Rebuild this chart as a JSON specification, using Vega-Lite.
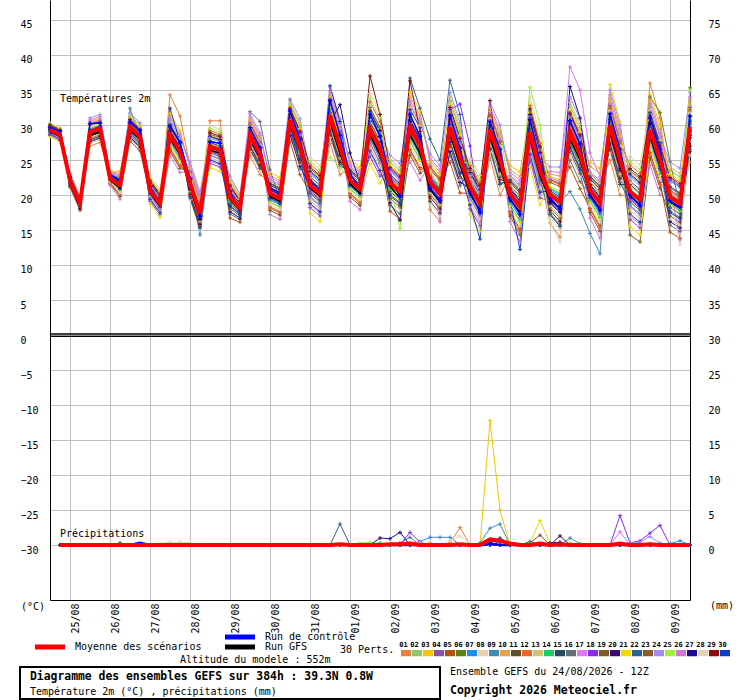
{
  "$schema": "https://vega.github.io/schema/vega-lite/v6.json",
  "description": "Diagramme des ensembles GEFS : température 2m et précipitations",
  "width": 640,
  "height": 600,
  "autosize": {"type": "none"},
  "padding": {"left": 50, "top": 0, "right": 50, "bottom": 100},
  "background": "white",
  "config": {
    "font": "DejaVu Sans Mono",
    "view": {"stroke": null},
    "axis": {
      "labelFont": "DejaVu Sans Mono",
      "labelFontSize": 10,
      "labelColor": "#000000",
      "domainColor": "#000000",
      "domainWidth": 1,
      "gridColor": "#c0c0c0",
      "gridOpacity": 1,
      "gridWidth": 1,
      "ticks": false,
      "tickSize": 0,
      "title": null,
      "labelFlush": false,
      "labelOverlap": false,
      "labelBound": false
    },
    "legend": {
      "labelFont": "DejaVu Sans Mono",
      "titleFont": "DejaVu Sans Mono",
      "labelColor": "#000000",
      "titleColor": "#000000",
      "padding": 0,
      "offset": 0
    },
    "text": {"font": "DejaVu Sans Mono", "fontSize": 10, "color": "#000000"}
  },
  "datasets": {
    "temp": [
      {"h":0,"01":29.2,"02":29.5,"03":29.9,"04":28.5,"05":29.1,"06":29.4,"07":29.8,"08":30.3,"09":28.9,"10":29.3,"11":29.6,"12":30.1,"13":28.8,"14":29.2,"15":29.5,"16":29.9,"17":28.6,"18":29.1,"19":29.4,"20":29.8,"21":28.3,"22":29.0,"23":29.3,"24":29.7,"25":30.2,"26":28.9,"27":29.3,"28":29.6,"29":30.0,"30":28.7,"c":29.6,"g":29.0,"m":29.3},
      {"h":6,"01":28.5,"02":28.8,"03":29.2,"04":27.8,"05":28.4,"06":28.7,"07":29.1,"08":29.6,"09":28.2,"10":28.6,"11":28.9,"12":29.4,"13":28.1,"14":28.5,"15":28.8,"16":29.2,"17":27.9,"18":28.4,"19":28.7,"20":29.1,"21":27.6,"22":28.3,"23":28.6,"24":29.0,"25":29.5,"26":28.2,"27":28.6,"28":28.9,"29":29.3,"30":28.0,"c":29.1,"g":28.4,"m":28.6},
      {"h":12,"01":22.2,"02":22.9,"03":21.9,"04":22.4,"05":21.1,"06":22.0,"07":22.6,"08":21.5,"09":22.1,"10":22.7,"11":21.7,"12":22.3,"13":23.0,"14":21.9,"15":22.4,"16":21.3,"17":22.1,"18":22.6,"19":21.6,"20":22.2,"21":22.8,"22":21.8,"23":22.3,"24":23.1,"25":22.0,"26":22.5,"27":21.4,"28":22.1,"29":22.7,"30":21.7,"c":22.5,"g":22.0,"m":22.1},
      {"h":18,"01":18.9,"02":19.6,"03":18.6,"04":19.1,"05":17.8,"06":18.7,"07":19.3,"08":18.2,"09":18.8,"10":19.4,"11":18.4,"12":19.0,"13":19.7,"14":18.6,"15":19.1,"16":18.0,"17":18.8,"18":19.3,"19":18.3,"20":18.9,"21":19.5,"22":18.5,"23":19.0,"24":19.8,"25":18.7,"26":19.2,"27":18.1,"28":18.8,"29":19.4,"30":18.4,"c":18.9,"g":18.6,"m":18.8},
      {"h":24,"01":27.0,"02":29.0,"03":30.3,"04":28.6,"05":29.9,"06":28.1,"07":29.4,"08":27.4,"09":29.0,"10":30.5,"11":28.7,"12":30.0,"13":28.2,"14":29.5,"15":27.6,"16":29.1,"17":30.7,"18":28.8,"19":30.1,"20":28.4,"21":29.6,"22":27.7,"23":29.2,"24":31.0,"25":28.9,"26":30.2,"27":28.5,"28":29.8,"29":27.9,"30":29.3,"c":30.2,"g":28.6,"m":29.0},
      {"h":30,"01":27.5,"02":29.5,"03":30.8,"04":29.1,"05":30.4,"06":28.6,"07":29.9,"08":27.9,"09":29.5,"10":31.0,"11":29.2,"12":30.5,"13":28.7,"14":30.0,"15":28.1,"16":29.6,"17":31.2,"18":29.3,"19":30.6,"20":28.9,"21":30.1,"22":28.2,"23":29.7,"24":31.5,"25":29.4,"26":30.7,"27":29.0,"28":30.3,"29":28.4,"30":29.8,"c":30.3,"g":29.0,"m":29.5},
      {"h":36,"01":23.0,"02":22.4,"03":23.4,"04":22.5,"05":21.8,"06":22.7,"07":22.1,"08":23.0,"09":22.3,"10":23.3,"11":22.5,"12":21.7,"13":22.7,"14":22.0,"15":22.9,"16":22.3,"17":23.2,"18":22.4,"19":21.6,"20":22.6,"21":22.0,"22":22.9,"23":22.2,"24":23.1,"25":22.4,"26":21.4,"27":22.6,"28":21.9,"29":22.8,"30":22.2,"c":22.9,"g":22.1,"m":22.4},
      {"h":42,"01":22.6,"02":21.3,"03":23.4,"04":21.6,"05":20.1,"06":22.0,"07":20.8,"08":22.5,"09":21.2,"10":23.1,"11":21.5,"12":20.0,"13":21.9,"14":20.6,"15":22.4,"16":21.1,"17":22.9,"18":21.4,"19":19.8,"20":21.8,"21":20.5,"22":22.3,"23":21.0,"24":22.7,"25":21.4,"26":19.4,"27":21.7,"28":20.3,"29":22.2,"30":20.9,"c":22.0,"g":21.0,"m":21.4},
      {"h":48,"01":29.9,"02":31.2,"03":29.2,"04":30.2,"05":27.7,"06":29.5,"07":30.6,"08":28.4,"09":32.4,"10":30.9,"11":28.9,"12":30.0,"13":31.4,"14":29.3,"15":30.3,"16":28.1,"17":29.6,"18":30.7,"19":28.6,"20":29.8,"21":31.0,"22":29.1,"23":30.1,"24":31.7,"25":29.4,"26":30.5,"27":28.3,"28":29.7,"29":30.8,"30":28.8,"c":30.4,"g":29.2,"m":29.7},
      {"h":54,"01":28.5,"02":29.8,"03":27.8,"04":28.8,"05":26.3,"06":28.1,"07":29.2,"08":27.0,"09":28.3,"10":29.5,"11":27.5,"12":28.6,"13":30.0,"14":27.9,"15":28.9,"16":26.7,"17":28.2,"18":29.3,"19":27.2,"20":28.4,"21":29.6,"22":27.7,"23":28.7,"24":30.3,"25":28.0,"26":29.1,"27":26.9,"28":28.3,"29":29.4,"30":27.4,"c":29.2,"g":28.0,"m":28.3},
      {"h":60,"01":20.4,"02":21.0,"03":21.8,"04":19.1,"05":20.2,"06":20.8,"07":21.6,"08":22.7,"09":19.9,"10":20.7,"11":21.3,"12":22.2,"13":19.6,"14":20.5,"15":21.1,"16":21.9,"17":19.3,"18":20.3,"19":20.9,"20":21.7,"21":18.7,"22":20.1,"23":20.7,"24":21.5,"25":22.4,"26":19.8,"27":20.6,"28":21.2,"29":22.0,"30":19.4,"c":21.2,"g":20.3,"m":20.7},
      {"h":66,"01":18.5,"02":19.1,"03":19.9,"04":17.2,"05":18.3,"06":18.9,"07":19.7,"08":20.8,"09":18.0,"10":18.8,"11":19.4,"12":20.3,"13":17.7,"14":18.6,"15":19.2,"16":20.0,"17":17.4,"18":18.4,"19":19.0,"20":19.8,"21":16.8,"22":18.2,"23":18.8,"24":19.6,"25":20.5,"26":17.9,"27":18.7,"28":19.3,"29":20.1,"30":17.5,"c":19.0,"g":18.4,"m":18.8},
      {"h":72,"01":34.3,"02":28.5,"03":31.6,"04":28.9,"05":26.7,"06":29.5,"07":27.7,"08":30.3,"09":28.3,"10":31.2,"11":28.8,"12":26.5,"13":29.4,"14":27.4,"15":30.1,"16":28.2,"17":30.9,"18":28.6,"19":26.2,"20":29.2,"21":27.3,"22":30.0,"23":28.0,"24":30.6,"25":28.6,"26":25.6,"27":29.1,"28":27.0,"29":29.8,"30":32.4,"c":29.8,"g":28.0,"m":28.6},
      {"h":78,"01":31.3,"02":26.1,"03":29.2,"04":26.5,"05":24.3,"06":27.1,"07":25.3,"08":27.9,"09":25.9,"10":28.8,"11":26.4,"12":24.1,"13":27.0,"14":25.0,"15":27.7,"16":25.8,"17":28.5,"18":26.2,"19":23.8,"20":26.8,"21":24.9,"22":27.6,"23":25.6,"24":28.2,"25":26.2,"26":23.2,"27":26.7,"28":24.6,"29":27.4,"30":27.5,"c":27.5,"g":25.8,"m":26.2},
      {"h":84,"01":24.0,"02":21.7,"03":23.7,"04":21.1,"05":23.1,"06":20.4,"07":22.3,"08":19.3,"09":21.7,"10":24.0,"11":21.3,"12":23.2,"13":20.5,"14":22.5,"15":19.6,"16":21.9,"17":24.3,"18":21.4,"19":23.4,"20":20.8,"21":22.6,"22":19.8,"23":22.0,"24":24.7,"25":21.6,"26":23.5,"27":21.0,"28":22.9,"29":20.1,"30":22.2,"c":22.4,"g":21.3,"m":21.7},
      {"h":90,"01":18.5,"02":17.4,"03":19.4,"04":16.8,"05":18.8,"06":16.1,"07":18.0,"08":15.0,"09":14.3,"10":19.7,"11":17.0,"12":18.9,"13":16.2,"14":18.2,"15":15.3,"16":17.6,"17":20.0,"18":17.1,"19":19.1,"20":16.5,"21":18.3,"22":15.5,"23":17.7,"24":20.4,"25":17.3,"26":19.2,"27":16.7,"28":18.6,"29":15.8,"30":17.9,"c":17.0,"g":17.0,"m":17.4},
      {"h":96,"01":30.6,"02":27.4,"03":28.6,"04":24.5,"05":26.2,"06":27.1,"07":28.3,"08":29.9,"09":25.7,"10":26.9,"11":27.8,"12":29.2,"13":25.3,"14":26.6,"15":27.5,"16":28.7,"17":24.8,"18":26.3,"19":27.2,"20":28.4,"21":23.9,"22":26.0,"23":26.9,"24":28.1,"25":29.5,"26":25.6,"27":26.8,"28":27.7,"29":28.9,"30":25.0,"c":27.6,"g":26.4,"m":26.9},
      {"h":102,"01":30.6,"02":26.9,"03":28.1,"04":24.0,"05":25.7,"06":26.6,"07":27.8,"08":29.4,"09":25.2,"10":26.4,"11":27.3,"12":28.7,"13":24.8,"14":26.1,"15":27.0,"16":28.2,"17":24.3,"18":25.8,"19":26.7,"20":27.9,"21":23.4,"22":25.5,"23":26.4,"24":27.6,"25":29.0,"26":25.1,"27":26.3,"28":27.2,"29":28.4,"30":24.5,"c":27.4,"g":26.0,"m":26.4},
      {"h":108,"01":20.0,"02":22.0,"03":19.0,"04":20.5,"05":16.7,"06":19.4,"07":21.1,"08":17.8,"09":19.7,"10":21.5,"11":18.5,"12":20.2,"13":22.3,"14":19.1,"15":20.6,"16":17.3,"17":19.6,"18":21.2,"19":18.1,"20":19.9,"21":21.7,"22":18.8,"23":20.3,"24":22.7,"25":19.3,"26":20.9,"27":17.6,"28":19.7,"29":21.4,"30":18.4,"c":20.5,"g":19.3,"m":19.7},
      {"h":114,"01":18.3,"02":19.6,"03":17.6,"04":18.6,"05":16.1,"06":17.9,"07":19.0,"08":16.8,"09":18.1,"10":19.3,"11":17.3,"12":18.4,"13":19.8,"14":17.7,"15":18.7,"16":16.5,"17":18.0,"18":19.1,"19":17.0,"20":18.2,"21":19.4,"22":17.5,"23":18.5,"24":20.1,"25":17.8,"26":18.9,"27":16.7,"28":18.1,"29":19.2,"30":17.2,"c":17.8,"g":17.8,"m":18.1},
      {"h":120,"01":25.6,"02":28.6,"03":30.6,"04":28.0,"05":30.0,"06":27.3,"07":29.2,"08":26.2,"09":28.6,"10":30.9,"11":28.2,"12":30.1,"13":27.4,"14":29.4,"15":26.5,"16":31.9,"17":31.2,"18":28.3,"19":30.3,"20":27.7,"21":29.5,"22":26.7,"23":28.9,"24":31.6,"25":28.5,"26":30.4,"27":27.9,"28":29.8,"29":27.0,"30":29.1,"c":29.6,"g":28.2,"m":28.6},
      {"h":126,"01":22.9,"02":25.9,"03":27.9,"04":25.3,"05":27.3,"06":24.6,"07":26.5,"08":23.5,"09":25.9,"10":28.2,"11":25.5,"12":27.4,"13":24.7,"14":26.7,"15":23.8,"16":30.5,"17":28.5,"18":25.6,"19":27.6,"20":25.0,"21":26.8,"22":24.0,"23":26.2,"24":28.9,"25":25.8,"26":27.7,"27":25.2,"28":27.1,"29":24.3,"30":26.4,"c":26.8,"g":25.4,"m":25.9},
      {"h":132,"01":22.0,"02":20.1,"03":23.2,"04":20.5,"05":18.3,"06":21.1,"07":19.3,"08":21.9,"09":19.9,"10":22.8,"11":20.4,"12":18.1,"13":21.0,"14":19.0,"15":21.7,"16":23.6,"17":22.5,"18":20.2,"19":17.8,"20":20.8,"21":18.9,"22":21.6,"23":19.6,"24":22.2,"25":20.2,"26":17.2,"27":20.7,"28":18.6,"29":21.4,"30":19.5,"c":21.0,"g":19.8,"m":20.2},
      {"h":138,"01":21.3,"02":19.4,"03":22.5,"04":19.8,"05":17.6,"06":20.4,"07":18.6,"08":21.2,"09":19.2,"10":22.1,"11":19.7,"12":17.4,"13":20.3,"14":18.3,"15":21.0,"16":19.1,"17":21.8,"18":19.5,"19":17.1,"20":20.1,"21":18.2,"22":20.9,"23":18.9,"24":21.5,"25":19.5,"26":16.5,"27":20.0,"28":17.9,"29":20.7,"30":18.8,"c":20.3,"g":19.1,"m":19.5},
      {"h":144,"01":31.0,"02":33.0,"03":30.0,"04":31.5,"05":27.7,"06":30.4,"07":32.1,"08":28.8,"09":30.7,"10":32.5,"11":29.5,"12":31.2,"13":33.3,"14":30.1,"15":31.6,"16":33.6,"17":30.6,"18":32.2,"19":29.1,"20":30.9,"21":32.7,"22":29.8,"23":31.3,"24":33.7,"25":30.3,"26":31.9,"27":28.6,"28":30.7,"29":32.4,"30":29.4,"c":32.0,"g":30.0,"m":30.7},
      {"h":150,"01":27.3,"02":29.9,"03":25.9,"04":27.9,"05":22.9,"06":26.5,"07":28.7,"08":24.3,"09":26.9,"10":29.3,"11":25.3,"12":27.5,"13":30.3,"14":26.1,"15":28.1,"16":23.7,"17":26.7,"18":28.9,"19":24.7,"20":27.1,"21":29.5,"22":25.7,"23":27.7,"24":30.9,"25":26.3,"26":28.5,"27":24.1,"28":26.9,"29":29.1,"30":25.1,"c":28.0,"g":26.3,"m":26.9},
      {"h":156,"01":20.8,"02":22.0,"03":23.6,"04":18.2,"05":20.4,"06":21.6,"07":23.2,"08":25.4,"09":19.8,"10":21.4,"11":22.6,"12":24.4,"13":19.2,"14":21.0,"15":22.2,"16":23.8,"17":18.6,"18":20.6,"19":21.8,"20":23.4,"21":17.4,"22":20.2,"23":21.4,"24":23.0,"25":24.8,"26":19.6,"27":21.2,"28":22.4,"29":24.0,"30":18.8,"c":22.0,"g":21.0,"m":21.4},
      {"h":162,"01":19.6,"02":20.8,"03":22.4,"04":17.0,"05":19.2,"06":20.4,"07":22.0,"08":24.2,"09":18.6,"10":20.2,"11":21.4,"12":23.2,"13":18.0,"14":19.8,"15":21.0,"16":22.6,"17":17.4,"18":19.4,"19":20.6,"20":22.2,"21":16.2,"22":19.0,"23":20.2,"24":21.8,"25":23.6,"26":18.4,"27":20.0,"28":21.2,"29":22.8,"30":17.6,"c":20.8,"g":19.8,"m":20.2},
      {"h":168,"01":27.4,"02":31.4,"03":34.0,"04":30.6,"05":33.2,"06":29.6,"07":32.2,"08":28.2,"09":31.4,"10":34.4,"11":30.8,"12":33.4,"13":29.8,"14":32.4,"15":28.6,"16":31.6,"17":34.8,"18":31.0,"19":33.6,"20":30.2,"21":32.6,"22":28.8,"23":31.8,"24":35.4,"25":25.4,"26":33.8,"27":30.4,"28":33.0,"29":29.2,"30":35.6,"c":33.5,"g":30.6,"m":31.4},
      {"h":174,"01":22.9,"02":26.9,"03":29.5,"04":26.1,"05":28.7,"06":25.1,"07":27.7,"08":23.7,"09":26.9,"10":29.9,"11":26.3,"12":28.9,"13":25.3,"14":27.9,"15":24.1,"16":27.1,"17":30.3,"18":26.5,"19":29.1,"20":25.7,"21":28.1,"22":24.3,"23":27.3,"24":30.9,"25":24.0,"26":29.3,"27":32.9,"28":28.5,"29":24.7,"30":30.5,"c":28.5,"g":26.0,"m":26.9},
      {"h":180,"01":23.9,"02":22.0,"03":25.1,"04":22.4,"05":20.2,"06":23.0,"07":21.2,"08":23.8,"09":21.8,"10":24.7,"11":22.3,"12":20.0,"13":22.9,"14":20.9,"15":23.6,"16":21.7,"17":24.4,"18":22.1,"19":19.7,"20":22.7,"21":20.8,"22":23.5,"23":21.5,"24":24.1,"25":22.1,"26":19.1,"27":26.0,"28":20.5,"29":23.3,"30":21.4,"c":23.0,"g":21.6,"m":22.1},
      {"h":186,"01":22.7,"02":20.8,"03":23.9,"04":21.2,"05":19.0,"06":21.8,"07":20.0,"08":22.6,"09":20.6,"10":23.5,"11":21.1,"12":18.8,"13":21.7,"14":19.7,"15":22.4,"16":20.5,"17":23.2,"18":20.9,"19":18.5,"20":21.5,"21":19.6,"22":22.3,"23":20.3,"24":22.9,"25":20.9,"26":17.9,"27":21.8,"28":19.3,"29":22.1,"30":20.2,"c":21.0,"g":20.2,"m":20.9},
      {"h":192,"01":28.8,"02":30.3,"03":32.3,"04":25.5,"05":28.3,"06":29.8,"07":31.8,"08":34.5,"09":27.5,"10":29.5,"11":31.0,"12":33.3,"13":26.8,"14":29.0,"15":30.5,"16":32.5,"17":26.0,"18":28.5,"19":30.0,"20":32.0,"21":24.5,"22":28.0,"23":29.5,"24":31.5,"25":33.8,"26":27.3,"27":29.3,"28":30.8,"29":37.0,"30":26.3,"c":31.5,"g":28.6,"m":29.5},
      {"h":198,"01":26.0,"02":27.5,"03":29.5,"04":22.7,"05":25.5,"06":27.0,"07":29.0,"08":31.7,"09":24.7,"10":26.7,"11":28.2,"12":30.5,"13":24.0,"14":26.2,"15":27.7,"16":29.7,"17":23.2,"18":25.7,"19":27.2,"20":29.2,"21":21.7,"22":25.2,"23":26.7,"24":28.7,"25":31.0,"26":24.5,"27":26.5,"28":28.0,"29":31.5,"30":23.5,"c":28.4,"g":25.8,"m":26.7},
      {"h":204,"01":22.1,"02":24.7,"03":20.7,"04":22.7,"05":17.7,"06":21.3,"07":23.5,"08":19.1,"09":21.7,"10":24.1,"11":20.1,"12":22.3,"13":25.1,"14":20.9,"15":22.9,"16":18.5,"17":21.5,"18":23.7,"19":19.5,"20":21.9,"21":24.3,"22":20.5,"23":22.5,"24":25.7,"25":21.1,"26":23.3,"27":18.9,"28":21.7,"29":23.9,"30":19.9,"c":22.5,"g":21.2,"m":21.7},
      {"h":210,"01":20.9,"02":23.5,"03":19.5,"04":21.5,"05":16.5,"06":20.1,"07":22.3,"08":17.9,"09":20.5,"10":22.9,"11":18.9,"12":21.1,"13":23.9,"14":19.7,"15":21.7,"16":17.3,"17":20.3,"18":22.5,"19":18.3,"20":20.7,"21":23.1,"22":19.3,"23":21.3,"24":24.5,"25":15.2,"26":22.1,"27":16.4,"28":20.5,"29":22.7,"30":18.7,"c":19.8,"g":19.6,"m":20.5},
      {"h":216,"01":32.7,"02":29.5,"03":34.7,"04":30.2,"05":26.5,"06":31.2,"07":28.2,"08":32.5,"09":29.2,"10":34.0,"11":30.0,"12":26.2,"13":31.0,"14":27.7,"15":32.2,"16":29.0,"17":33.5,"18":29.7,"19":25.7,"20":30.7,"21":27.5,"22":36.7,"23":28.7,"24":33.0,"25":29.7,"26":24.7,"27":30.5,"28":27.0,"29":36.3,"30":28.5,"c":31.5,"g":28.6,"m":29.7},
      {"h":222,"01":30.1,"02":26.9,"03":32.1,"04":27.6,"05":23.9,"06":28.6,"07":25.6,"08":29.9,"09":26.6,"10":31.4,"11":27.4,"12":23.6,"13":28.4,"14":25.1,"15":29.6,"16":26.4,"17":30.9,"18":27.1,"19":23.1,"20":28.1,"21":24.9,"22":32.4,"23":26.1,"24":30.4,"25":27.1,"26":22.1,"27":27.9,"28":24.4,"29":29.1,"30":25.9,"c":28.4,"g":26.0,"m":27.1},
      {"h":228,"01":17.9,"02":21.9,"03":24.5,"04":21.1,"05":23.7,"06":20.1,"07":22.7,"08":18.7,"09":21.9,"10":24.9,"11":21.3,"12":23.9,"13":20.3,"14":22.9,"15":19.1,"16":22.1,"17":25.3,"18":21.5,"19":24.1,"20":20.7,"21":23.1,"22":28.0,"23":22.3,"24":25.9,"25":21.7,"26":24.3,"27":20.9,"28":23.5,"29":19.7,"30":22.5,"c":21.0,"g":20.8,"m":21.9},
      {"h":234,"01":16.2,"02":20.2,"03":22.8,"04":19.4,"05":22.0,"06":18.4,"07":21.0,"08":17.0,"09":20.2,"10":23.2,"11":19.6,"12":22.2,"13":18.6,"14":21.2,"15":17.4,"16":20.4,"17":23.6,"18":19.8,"19":22.4,"20":19.0,"21":21.4,"22":25.0,"23":20.6,"24":24.2,"25":20.0,"26":16.2,"27":19.2,"28":21.8,"29":18.0,"30":20.8,"c":19.2,"g":19.0,"m":20.2},
      {"h":240,"01":30.2,"02":33.5,"03":28.5,"04":31.0,"05":24.7,"06":29.2,"07":32.0,"08":26.5,"09":29.7,"10":32.7,"11":27.7,"12":30.5,"13":34.0,"14":28.7,"15":31.2,"16":25.7,"17":29.5,"18":32.2,"19":27.0,"20":30.0,"21":33.0,"22":36.4,"23":30.7,"24":34.7,"25":29.0,"26":31.7,"27":26.2,"28":29.7,"29":32.5,"30":27.5,"c":31.4,"g":28.6,"m":29.7},
      {"h":246,"01":25.8,"02":29.1,"03":24.1,"04":26.6,"05":20.3,"06":24.8,"07":27.6,"08":22.1,"09":25.3,"10":28.3,"11":23.3,"12":26.1,"13":29.6,"14":24.3,"15":26.8,"16":21.3,"17":25.1,"18":33.0,"19":22.6,"20":25.6,"21":28.6,"22":31.5,"23":26.3,"24":30.3,"25":24.6,"26":27.3,"27":21.8,"28":25.3,"29":28.1,"30":23.1,"c":26.7,"g":24.2,"m":25.3},
      {"h":252,"01":20.6,"02":21.8,"03":23.4,"04":18.0,"05":20.2,"06":21.4,"07":23.0,"08":25.2,"09":19.6,"10":21.2,"11":22.4,"12":24.2,"13":19.0,"14":20.8,"15":22.0,"16":23.6,"17":18.4,"18":27.0,"19":21.6,"20":23.2,"21":17.2,"22":20.0,"23":21.2,"24":22.8,"25":24.6,"26":19.4,"27":21.0,"28":22.2,"29":23.8,"30":18.6,"c":20.5,"g":20.2,"m":21.2},
      {"h":258,"01":18.2,"02":19.4,"03":21.0,"04":15.6,"05":17.8,"06":19.0,"07":20.6,"08":22.8,"09":17.2,"10":18.8,"11":20.0,"12":21.8,"13":16.6,"14":18.4,"15":19.6,"16":21.2,"17":16.0,"18":18.0,"19":19.2,"20":20.8,"21":14.8,"22":17.6,"23":18.8,"24":20.4,"25":22.2,"26":17.0,"27":18.6,"28":19.8,"29":21.4,"30":13.7,"c":17.5,"g":17.8,"m":18.8},
      {"h":264,"01":25.3,"02":29.3,"03":31.9,"04":28.5,"05":31.1,"06":27.5,"07":30.1,"08":26.1,"09":29.3,"10":32.3,"11":28.7,"12":31.3,"13":27.7,"14":30.3,"15":26.5,"16":29.5,"17":32.7,"18":28.9,"19":31.5,"20":28.1,"21":30.5,"22":26.7,"23":29.7,"24":33.3,"25":29.1,"26":31.7,"27":28.3,"28":30.9,"29":33.5,"30":29.9,"c":30.5,"g":28.2,"m":29.3},
      {"h":270,"01":20.0,"02":25.0,"03":28.2,"04":24.0,"05":27.2,"06":22.7,"07":26.0,"08":21.0,"09":25.0,"10":28.7,"11":24.2,"12":27.5,"13":23.0,"14":26.2,"15":21.5,"16":25.2,"17":29.2,"18":24.5,"19":27.7,"20":23.5,"21":26.5,"22":21.7,"23":25.5,"24":30.0,"25":29.3,"26":28.0,"27":23.7,"28":27.0,"29":22.2,"30":25.7,"c":26.5,"g":24.0,"m":25.0},
      {"h":276,"01":22.6,"02":20.0,"03":24.2,"04":20.6,"05":17.6,"06":21.4,"07":19.0,"08":22.4,"09":19.8,"10":23.6,"11":20.4,"12":17.4,"13":21.2,"14":18.6,"15":22.2,"16":19.6,"17":23.2,"18":20.2,"19":17.0,"20":21.0,"21":18.4,"22":22.0,"23":19.4,"24":22.8,"25":20.2,"26":16.2,"27":20.8,"28":18.0,"29":21.8,"30":19.2,"c":19.5,"g":19.3,"m":20.2},
      {"h":282,"01":21.3,"02":18.1,"03":23.3,"04":18.8,"05":15.1,"06":19.8,"07":16.8,"08":21.1,"09":17.8,"10":22.6,"11":18.6,"12":14.8,"13":19.6,"14":16.3,"15":20.8,"16":17.6,"17":22.1,"18":18.3,"19":14.3,"20":19.3,"21":16.1,"22":20.6,"23":17.3,"24":21.6,"25":18.3,"26":13.3,"27":19.1,"28":15.6,"29":20.3,"30":12.2,"c":17.2,"g":17.5,"m":18.3},
      {"h":288,"01":28.3,"02":29.8,"03":31.8,"04":25.0,"05":27.8,"06":29.3,"07":31.3,"08":34.0,"09":27.0,"10":29.0,"11":30.5,"12":32.8,"13":26.3,"14":28.5,"15":30.0,"16":32.0,"17":25.5,"18":28.0,"19":29.5,"20":31.5,"21":24.0,"22":27.5,"23":29.0,"24":31.0,"25":35.4,"26":26.8,"27":28.8,"28":30.3,"29":32.3,"30":25.8,"c":30.8,"g":28.0,"m":29.0},
      {"h":294,"01":22.9,"02":24.4,"03":26.4,"04":19.6,"05":22.4,"06":23.9,"07":25.9,"08":28.6,"09":21.6,"10":23.6,"11":25.1,"12":27.4,"13":20.9,"14":23.1,"15":24.6,"16":26.6,"17":20.1,"18":22.6,"19":24.1,"20":26.1,"21":18.6,"22":22.1,"23":23.6,"24":25.6,"25":30.0,"26":21.4,"27":23.4,"28":24.9,"29":26.9,"30":20.4,"c":24.8,"g":22.8,"m":23.6},
      {"h":300,"01":16.0,"02":20.0,"03":22.6,"04":19.2,"05":21.8,"06":18.2,"07":20.8,"08":16.8,"09":20.0,"10":23.0,"11":19.4,"12":22.0,"13":18.4,"14":21.0,"15":17.2,"16":20.2,"17":23.4,"18":19.6,"19":22.2,"20":18.8,"21":21.2,"22":17.4,"23":20.4,"24":24.0,"25":19.8,"26":22.4,"27":19.0,"28":16.0,"29":17.8,"30":20.6,"c":19.5,"g":19.2,"m":20.0},
      {"h":306,"01":14.0,"02":19.0,"03":22.2,"04":18.0,"05":21.2,"06":16.7,"07":20.0,"08":15.0,"09":19.0,"10":22.7,"11":18.2,"12":21.5,"13":17.0,"14":20.2,"15":15.5,"16":19.2,"17":23.2,"18":18.5,"19":21.7,"20":17.5,"21":20.5,"22":15.7,"23":19.5,"24":24.0,"25":18.7,"26":22.0,"27":17.7,"28":13.3,"29":16.2,"30":19.7,"c":18.0,"g":18.2,"m":19.0},
      {"h":312,"01":29.5,"02":32.7,"03":27.7,"04":30.2,"05":24.0,"06":28.5,"07":31.2,"08":25.7,"09":20.5,"10":32.0,"11":27.0,"12":29.7,"13":33.2,"14":28.0,"15":30.5,"16":25.0,"17":38.3,"18":31.5,"19":26.2,"20":29.2,"21":32.2,"22":27.5,"23":30.0,"24":34.0,"25":28.2,"26":31.0,"27":35.5,"28":29.0,"29":31.7,"30":26.7,"c":30.6,"g":28.0,"m":29.0},
      {"h":318,"01":26.4,"02":29.6,"03":24.6,"04":27.1,"05":20.9,"06":25.4,"07":28.1,"08":22.6,"09":18.0,"10":28.9,"11":23.9,"12":26.6,"13":30.1,"14":24.9,"15":27.4,"16":21.9,"17":35.0,"18":28.4,"19":23.1,"20":26.1,"21":29.1,"22":24.4,"23":26.9,"24":30.9,"25":25.1,"26":27.9,"27":31.0,"28":25.9,"29":28.6,"30":23.6,"c":27.3,"g":25.0,"m":25.9},
      {"h":324,"01":23.1,"02":20.5,"03":24.7,"04":21.1,"05":18.1,"06":21.9,"07":19.5,"08":22.9,"09":14.5,"10":24.1,"11":20.9,"12":17.9,"13":21.7,"14":19.1,"15":22.7,"16":20.1,"17":26.0,"18":20.7,"19":17.5,"20":21.5,"21":18.9,"22":22.5,"23":19.9,"24":23.3,"25":20.7,"26":16.7,"27":21.3,"28":18.5,"29":22.3,"30":19.7,"c":20.0,"g":20.0,"m":20.7},
      {"h":330,"01":21.8,"02":18.6,"03":23.8,"04":19.3,"05":15.6,"06":20.3,"07":17.3,"08":21.6,"09":11.6,"10":23.1,"11":19.1,"12":15.3,"13":20.1,"14":16.8,"15":21.3,"16":18.1,"17":22.6,"18":18.8,"19":14.8,"20":19.8,"21":16.6,"22":21.1,"23":17.8,"24":22.1,"25":18.8,"26":13.8,"27":19.6,"28":16.1,"29":20.8,"30":17.6,"c":17.9,"g":18.0,"m":18.8},
      {"h":336,"01":25.0,"02":30.0,"03":33.3,"04":29.0,"05":32.3,"06":27.8,"07":31.0,"08":26.0,"09":30.0,"10":33.8,"11":29.3,"12":32.5,"13":28.0,"14":31.3,"15":26.5,"16":30.3,"17":34.3,"18":29.5,"19":32.8,"20":28.5,"21":35.8,"22":26.8,"23":30.5,"24":35.0,"25":29.8,"26":33.0,"27":28.8,"28":32.0,"29":27.3,"30":30.8,"c":31.6,"g":29.0,"m":30.0},
      {"h":342,"01":20.0,"02":25.0,"03":28.3,"04":24.0,"05":27.3,"06":22.8,"07":26.0,"08":21.0,"09":25.0,"10":28.8,"11":24.3,"12":27.5,"13":23.0,"14":26.3,"15":21.5,"16":25.3,"17":29.3,"18":24.5,"19":27.8,"20":23.5,"21":30.5,"22":21.8,"23":25.5,"24":30.0,"25":24.8,"26":28.0,"27":23.8,"28":27.0,"29":22.3,"30":25.8,"c":26.5,"g":24.2,"m":25.0},
      {"h":348,"01":19.8,"02":21.3,"03":23.3,"04":16.5,"05":19.3,"06":20.8,"07":22.8,"08":25.5,"09":18.5,"10":20.5,"11":22.0,"12":24.3,"13":17.8,"14":20.0,"15":21.5,"16":23.5,"17":17.0,"18":19.5,"19":14.3,"20":23.0,"21":15.5,"22":19.0,"23":20.5,"24":22.5,"25":24.8,"26":18.3,"27":20.3,"28":21.8,"29":23.8,"30":17.3,"c":20.0,"g":19.8,"m":20.5},
      {"h":354,"01":18.6,"02":20.1,"03":22.1,"04":15.3,"05":18.1,"06":19.6,"07":21.6,"08":24.3,"09":17.3,"10":19.3,"11":20.8,"12":23.1,"13":16.6,"14":18.8,"15":20.3,"16":22.3,"17":15.8,"18":18.3,"19":13.3,"20":21.8,"21":14.3,"22":17.8,"23":19.3,"24":21.3,"25":23.6,"26":17.1,"27":19.1,"28":20.6,"29":22.6,"30":16.1,"c":18.5,"g":18.6,"m":19.3},
      {"h":360,"01":36.0,"02":29.1,"03":34.3,"04":29.8,"05":26.1,"06":34.0,"07":27.8,"08":32.1,"09":28.8,"10":33.6,"11":29.6,"12":25.8,"13":30.6,"14":27.3,"15":31.8,"16":28.6,"17":33.1,"18":29.3,"19":25.3,"20":30.3,"21":27.1,"22":31.6,"23":28.3,"24":32.6,"25":29.3,"26":24.3,"27":30.1,"28":26.6,"29":31.3,"30":28.1,"c":31.0,"g":28.4,"m":29.3},
      {"h":366,"01":31.0,"02":24.8,"03":30.0,"04":25.5,"05":21.8,"06":31.8,"07":23.5,"08":27.8,"09":24.5,"10":29.3,"11":25.3,"12":21.5,"13":26.3,"14":23.0,"15":27.5,"16":24.3,"17":28.8,"18":25.0,"19":21.0,"20":26.0,"21":22.8,"22":27.3,"23":24.0,"24":28.3,"25":25.0,"26":20.0,"27":25.8,"28":22.3,"29":27.0,"30":23.8,"c":26.5,"g":24.2,"m":25.0},
      {"h":372,"01":20.2,"02":23.5,"03":18.5,"04":21.0,"05":14.7,"06":24.8,"07":22.0,"08":16.5,"09":19.7,"10":22.7,"11":17.7,"12":20.5,"13":24.0,"14":18.7,"15":21.2,"16":15.7,"17":19.5,"18":22.2,"19":17.0,"20":20.0,"21":23.0,"22":18.2,"23":20.7,"24":24.7,"25":19.0,"26":21.7,"27":16.2,"28":19.7,"29":22.5,"30":17.5,"c":19.2,"g":19.0,"m":19.7},
      {"h":378,"01":19.3,"02":22.6,"03":17.6,"04":20.1,"05":13.8,"06":18.3,"07":21.1,"08":15.6,"09":18.8,"10":21.8,"11":16.8,"12":19.6,"13":23.1,"14":17.8,"15":20.3,"16":14.8,"17":18.6,"18":21.3,"19":16.1,"20":19.1,"21":22.1,"22":17.3,"23":19.8,"24":23.8,"25":18.1,"26":13.6,"27":15.3,"28":12.9,"29":21.6,"30":16.6,"c":18.3,"g":18.1,"m":18.8},
      {"h":384,"01":24.7,"02":29.7,"03":33.0,"04":28.7,"05":32.0,"06":35.3,"07":30.7,"08":25.7,"09":29.7,"10":33.5,"11":29.0,"12":32.2,"13":27.7,"14":31.0,"15":26.2,"16":30.0,"17":34.0,"18":29.2,"19":32.5,"20":28.2,"21":31.2,"22":26.5,"23":30.2,"24":34.7,"25":35.0,"26":32.7,"27":28.5,"28":31.7,"29":27.0,"30":30.5,"c":31.3,"g":28.8,"m":29.7}
    ],
    "precip": [
      {"h":6,"01":0,"02":0,"03":0,"04":0,"05":0,"06":0,"07":0,"08":0,"09":0,"10":0,"11":0,"12":0,"13":0,"14":0,"15":0,"16":0,"17":0,"18":0,"19":0,"20":0,"21":0,"22":0,"23":0,"24":0,"25":0,"26":0,"27":0,"28":0,"29":0,"30":0,"c":0.1,"g":0,"m":0},
      {"h":12,"01":0,"02":0,"03":0,"04":0,"05":0,"06":0,"07":0,"08":0,"09":0,"10":0,"11":0,"12":0,"13":0,"14":0,"15":0,"16":0,"17":0,"18":0,"19":0,"20":0,"21":0,"22":0,"23":0,"24":0,"25":0,"26":0,"27":0,"28":0,"29":0,"30":0,"c":0,"g":0,"m":0},
      {"h":18,"01":0,"02":0,"03":0,"04":0,"05":0,"06":0,"07":0,"08":0,"09":0,"10":0,"11":0,"12":0,"13":0,"14":0,"15":0,"16":0,"17":0,"18":0,"19":0,"20":0,"21":0,"22":0,"23":0,"24":0,"25":0,"26":0,"27":0,"28":0,"29":0,"30":0,"c":0,"g":0,"m":0},
      {"h":24,"01":0,"02":0,"03":0,"04":0,"05":0,"06":0,"07":0,"08":0,"09":0,"10":0,"11":0,"12":0,"13":0,"14":0,"15":0,"16":0,"17":0,"18":0,"19":0,"20":0,"21":0,"22":0,"23":0,"24":0,"25":0,"26":0,"27":0,"28":0,"29":0,"30":0,"c":0,"g":0,"m":0},
      {"h":30,"01":0,"02":0,"03":0,"04":0,"05":0,"06":0,"07":0,"08":0,"09":0,"10":0,"11":0,"12":0,"13":0,"14":0,"15":0,"16":0,"17":0,"18":0,"19":0,"20":0,"21":0,"22":0,"23":0,"24":0,"25":0,"26":0,"27":0,"28":0,"29":0,"30":0,"c":0,"g":0,"m":0},
      {"h":36,"01":0,"02":0,"03":0,"04":0,"05":0,"06":0,"07":0,"08":0,"09":0,"10":0,"11":0,"12":0,"13":0,"14":0,"15":0,"16":0,"17":0,"18":0,"19":0,"20":0,"21":0,"22":0,"23":0,"24":0,"25":0,"26":0,"27":0,"28":0,"29":0,"30":0,"c":0,"g":0,"m":0},
      {"h":42,"01":0,"02":0,"03":0,"04":0,"05":0,"06":0,"07":0,"08":0,"09":0,"10":0,"11":0,"12":0,"13":0,"14":0,"15":0,"16":0,"17":0,"18":0,"19":0.3,"20":0,"21":0,"22":0,"23":0,"24":0,"25":0,"26":0,"27":0,"28":0,"29":0,"30":0,"c":0,"g":0,"m":0},
      {"h":48,"01":0,"02":0,"03":0,"04":0,"05":0,"06":0,"07":0,"08":0,"09":0,"10":0,"11":0,"12":0,"13":0,"14":0,"15":0,"16":0,"17":0,"18":0,"19":0,"20":0,"21":0,"22":0,"23":0,"24":0,"25":0,"26":0,"27":0,"28":0,"29":0,"30":0,"c":0,"g":0,"m":0},
      {"h":54,"01":0,"02":0,"03":0,"04":0,"05":0,"06":0,"07":0,"08":0,"09":0,"10":0,"11":0,"12":0,"13":0,"14":0,"15":0,"16":0,"17":0,"18":0,"19":0,"20":0,"21":0,"22":0,"23":0,"24":0,"25":0,"26":0,"27":0,"28":0,"29":0,"30":0,"c":0.3,"g":0,"m":0},
      {"h":60,"01":0,"02":0,"03":0,"04":0,"05":0,"06":0,"07":0,"08":0,"09":0,"10":0,"11":0,"12":0,"13":0,"14":0,"15":0,"16":0,"17":0,"18":0,"19":0,"20":0,"21":0,"22":0,"23":0,"24":0,"25":0,"26":0,"27":0,"28":0,"29":0,"30":0,"c":0,"g":0,"m":0},
      {"h":66,"01":0,"02":0,"03":0,"04":0,"05":0,"06":0,"07":0,"08":0.2,"09":0,"10":0,"11":0,"12":0,"13":0,"14":0,"15":0,"16":0,"17":0,"18":0,"19":0,"20":0,"21":0,"22":0,"23":0,"24":0,"25":0,"26":0,"27":0,"28":0,"29":0,"30":0,"c":0,"g":0,"m":0},
      {"h":72,"01":0,"02":0,"03":0,"04":0,"05":0,"06":0,"07":0,"08":0.4,"09":0,"10":0,"11":0,"12":0,"13":0,"14":0,"15":0,"16":0,"17":0,"18":0,"19":0,"20":0,"21":0,"22":0,"23":0,"24":0,"25":0,"26":0,"27":0,"28":0,"29":0,"30":0,"c":0,"g":0,"m":0},
      {"h":78,"01":0,"02":0,"03":0,"04":0,"05":0,"06":0,"07":0,"08":0.4,"09":0,"10":0,"11":0,"12":0,"13":0,"14":0,"15":0,"16":0,"17":0,"18":0,"19":0,"20":0,"21":0,"22":0,"23":0,"24":0,"25":0,"26":0,"27":0,"28":0,"29":0,"30":0,"c":0,"g":0,"m":0},
      {"h":84,"01":0,"02":0,"03":0,"04":0,"05":0,"06":0,"07":0,"08":0.3,"09":0,"10":0,"11":0,"12":0,"13":0,"14":0,"15":0,"16":0,"17":0,"18":0,"19":0,"20":0,"21":0,"22":0,"23":0,"24":0,"25":0,"26":0,"27":0,"28":0,"29":0,"30":0,"c":0,"g":0,"m":0},
      {"h":90,"01":0,"02":0,"03":0,"04":0,"05":0,"06":0,"07":0,"08":0.1,"09":0,"10":0,"11":0,"12":0,"13":0,"14":0,"15":0,"16":0,"17":0,"18":0,"19":0,"20":0,"21":0,"22":0,"23":0,"24":0,"25":0,"26":0,"27":0,"28":0,"29":0,"30":0,"c":0,"g":0,"m":0},
      {"h":96,"01":0,"02":0,"03":0,"04":0,"05":0,"06":0,"07":0,"08":0,"09":0,"10":0,"11":0,"12":0,"13":0,"14":0,"15":0,"16":0,"17":0,"18":0,"19":0,"20":0,"21":0,"22":0,"23":0,"24":0,"25":0,"26":0,"27":0,"28":0,"29":0,"30":0,"c":0,"g":0,"m":0},
      {"h":102,"01":0,"02":0,"03":0,"04":0,"05":0,"06":0,"07":0,"08":0,"09":0,"10":0,"11":0,"12":0,"13":0,"14":0,"15":0,"16":0,"17":0,"18":0,"19":0,"20":0,"21":0,"22":0,"23":0,"24":0,"25":0,"26":0,"27":0,"28":0,"29":0,"30":0,"c":0,"g":0,"m":0},
      {"h":108,"01":0,"02":0,"03":0,"04":0,"05":0,"06":0,"07":0,"08":0,"09":0,"10":0,"11":0,"12":0,"13":0,"14":0,"15":0,"16":0,"17":0,"18":0,"19":0,"20":0,"21":0,"22":0,"23":0,"24":0,"25":0,"26":0,"27":0,"28":0,"29":0,"30":0,"c":0,"g":0,"m":0},
      {"h":114,"01":0,"02":0,"03":0,"04":0,"05":0,"06":0,"07":0,"08":0,"09":0,"10":0,"11":0,"12":0,"13":0,"14":0,"15":0,"16":0,"17":0,"18":0,"19":0,"20":0,"21":0,"22":0,"23":0,"24":0,"25":0,"26":0,"27":0,"28":0,"29":0,"30":0,"c":0,"g":0,"m":0},
      {"h":120,"01":0,"02":0,"03":0,"04":0,"05":0,"06":0,"07":0,"08":0,"09":0,"10":0,"11":0,"12":0,"13":0,"14":0,"15":0,"16":0,"17":0,"18":0,"19":0,"20":0,"21":0,"22":0,"23":0,"24":0,"25":0,"26":0,"27":0,"28":0,"29":0,"30":0,"c":0,"g":0,"m":0},
      {"h":126,"01":0,"02":0,"03":0,"04":0,"05":0,"06":0,"07":0,"08":0,"09":0,"10":0,"11":0,"12":0,"13":0,"14":0,"15":0,"16":0,"17":0,"18":0,"19":0,"20":0,"21":0,"22":0,"23":0,"24":0,"25":0,"26":0,"27":0,"28":0,"29":0,"30":0,"c":0,"g":0,"m":0},
      {"h":132,"01":0,"02":0,"03":0,"04":0,"05":0,"06":0,"07":0,"08":0,"09":0,"10":0,"11":0,"12":0,"13":0,"14":0,"15":0,"16":0,"17":0,"18":0,"19":0,"20":0,"21":0,"22":0,"23":0,"24":0,"25":0,"26":0,"27":0,"28":0,"29":0,"30":0,"c":0,"g":0,"m":0},
      {"h":138,"01":0,"02":0,"03":0,"04":0,"05":0,"06":0,"07":0,"08":0,"09":0,"10":0,"11":0,"12":0,"13":0,"14":0,"15":0,"16":0,"17":0,"18":0,"19":0,"20":0,"21":0,"22":0,"23":0,"24":0,"25":0,"26":0,"27":0,"28":0,"29":0,"30":0,"c":0,"g":0,"m":0},
      {"h":144,"01":0,"02":0,"03":0,"04":0,"05":0,"06":0,"07":0,"08":0,"09":0,"10":0,"11":0,"12":0,"13":0,"14":0,"15":0,"16":0,"17":0,"18":0,"19":0,"20":0,"21":0,"22":0,"23":0,"24":0,"25":0,"26":0,"27":0,"28":0,"29":0,"30":0,"c":0,"g":0,"m":0},
      {"h":150,"01":0,"02":0,"03":0,"04":0,"05":0,"06":0,"07":0,"08":0,"09":0,"10":0,"11":0,"12":0,"13":0,"14":0,"15":0,"16":0,"17":0,"18":0,"19":0,"20":0,"21":0,"22":0,"23":0,"24":0,"25":0,"26":0,"27":0,"28":0,"29":0,"30":0,"c":0,"g":0,"m":0},
      {"h":156,"01":0,"02":0,"03":0,"04":0,"05":0,"06":0,"07":0,"08":0,"09":0,"10":0,"11":0,"12":0,"13":0,"14":0,"15":0,"16":0,"17":0,"18":0,"19":0,"20":0,"21":0,"22":0,"23":0,"24":0,"25":0,"26":0,"27":0,"28":0,"29":0,"30":0,"c":0,"g":0,"m":0},
      {"h":162,"01":0,"02":0,"03":0,"04":0,"05":0,"06":0,"07":0,"08":0,"09":0,"10":0,"11":0,"12":0,"13":0,"14":0,"15":0,"16":0,"17":0,"18":0,"19":0,"20":0,"21":0,"22":0,"23":0,"24":0,"25":0,"26":0,"27":0,"28":0,"29":0,"30":0,"c":0,"g":0,"m":0},
      {"h":168,"01":0,"02":0,"03":0,"04":0,"05":0,"06":0,"07":0,"08":0,"09":0,"10":0,"11":0,"12":0,"13":0,"14":0,"15":0,"16":0,"17":0,"18":0,"19":0,"20":0,"21":0,"22":0,"23":0,"24":0,"25":0,"26":0,"27":0,"28":0,"29":0,"30":0,"c":0,"g":0,"m":0},
      {"h":174,"01":0,"02":0,"03":0,"04":0,"05":0,"06":0,"07":0,"08":0,"09":0,"10":0,"11":0,"12":0,"13":0,"14":0,"15":0,"16":0,"17":0,"18":0,"19":0,"20":0,"21":0,"22":3.0,"23":0,"24":0,"25":0,"26":0,"27":0,"28":0,"29":0,"30":0,"c":0.1,"g":0,"m":0.1},
      {"h":180,"01":0,"02":0,"03":0,"04":0,"05":0,"06":0,"07":0,"08":0,"09":0,"10":0,"11":0,"12":0,"13":0,"14":0,"15":0,"16":0,"17":0,"18":0,"19":0,"20":0,"21":0,"22":0,"23":0,"24":0,"25":0,"26":0,"27":0,"28":0,"29":0,"30":0,"c":0,"g":0,"m":0},
      {"h":186,"01":0,"02":0,"03":0,"04":0,"05":0,"06":0,"07":0,"08":0,"09":0,"10":0,"11":0,"12":0,"13":0,"14":0,"15":0,"16":0,"17":0,"18":0,"19":0,"20":0,"21":0,"22":0,"23":0,"24":0,"25":0.3,"26":0,"27":0,"28":0,"29":0,"30":0,"c":0,"g":0,"m":0},
      {"h":192,"01":0,"02":0,"03":0,"04":0,"05":0,"06":0,"07":0,"08":0,"09":0,"10":0,"11":0,"12":0,"13":0,"14":0.2,"15":0,"16":0,"17":0,"18":0,"19":0,"20":0,"21":0,"22":0,"23":0,"24":0,"25":0.4,"26":0,"27":0,"28":0,"29":0,"30":0,"c":0,"g":0,"m":0},
      {"h":198,"01":0,"02":0,"03":0,"04":0,"05":0,"06":0,"07":0,"08":0,"09":0,"10":0,"11":0,"12":0,"13":0,"14":0.3,"15":0,"16":0,"17":0,"18":0,"19":0,"20":0,"21":0,"22":0,"23":0,"24":0,"25":0,"26":0,"27":1.0,"28":0,"29":0,"30":0,"c":0,"g":0,"m":0},
      {"h":204,"01":0,"02":0,"03":0,"04":0,"05":0,"06":0,"07":0,"08":0,"09":0,"10":0,"11":0,"12":0,"13":0,"14":0,"15":0,"16":0,"17":0,"18":0,"19":0,"20":0,"21":0,"22":0,"23":0,"24":0,"25":0,"26":0,"27":0.9,"28":0,"29":0,"30":0,"c":0,"g":0,"m":0.1},
      {"h":210,"01":0,"02":0,"03":0,"04":0,"05":0,"06":0,"07":0,"08":0,"09":0,"10":0,"11":0,"12":0,"13":0,"14":0,"15":0,"16":0.3,"17":0,"18":0,"19":0,"20":0,"21":0,"22":0,"23":0,"24":0,"25":0,"26":0,"27":1.8,"28":0,"29":0,"30":0,"c":0,"g":0.2,"m":0.1},
      {"h":216,"01":0,"02":0,"03":0,"04":0,"05":0,"06":0,"07":0,"08":0,"09":0,"10":0,"11":0,"12":0,"13":0,"14":0,"15":0,"16":1.1,"17":0,"18":1.8,"19":0,"20":0,"21":0,"22":0,"23":0,"24":0,"25":0,"26":0,"27":0,"28":0.4,"29":0,"30":0,"c":0,"g":0,"m":0.2},
      {"h":222,"01":0,"02":0,"03":0,"04":0,"05":0,"06":0,"07":0.5,"08":0,"09":0,"10":0,"11":0,"12":0,"13":0,"14":0,"15":0,"16":0,"17":0,"18":0.4,"19":0,"20":0,"21":0,"22":0,"23":0,"24":0,"25":0,"26":0,"27":0,"28":0.3,"29":0,"30":0,"c":0,"g":0,"m":0},
      {"h":228,"01":0,"02":0,"03":0,"04":0,"05":0,"06":0,"07":1.1,"08":0,"09":0,"10":0.3,"11":0,"12":0,"13":0,"14":0,"15":0,"16":0,"17":0,"18":0,"19":0,"20":0,"21":0,"22":0,"23":0,"24":0,"25":0,"26":0,"27":0,"28":0,"29":0,"30":0,"c":0,"g":0,"m":0},
      {"h":234,"01":0,"02":0,"03":0,"04":0,"05":0,"06":0,"07":1.1,"08":0,"09":0,"10":0,"11":0,"12":0,"13":0,"14":0,"15":0,"16":0,"17":0,"18":0,"19":0,"20":0,"21":0,"22":0,"23":0,"24":0,"25":0,"26":0,"27":0,"28":0,"29":0,"30":0,"c":0,"g":0,"m":0},
      {"h":240,"01":0.3,"02":0,"03":0,"04":0,"05":0,"06":0,"07":1.1,"08":0,"09":0,"10":0,"11":0,"12":0,"13":0,"14":0,"15":0,"16":0,"17":0,"18":0,"19":0,"20":0,"21":0,"22":0,"23":0,"24":0,"25":0,"26":0,"27":0,"28":0.6,"29":0,"30":0,"c":0,"g":0,"m":0},
      {"h":246,"01":2.5,"02":0,"03":0,"04":0,"05":0,"06":0,"07":0,"08":0,"09":0,"10":0,"11":0,"12":0,"13":0,"14":0,"15":0,"16":0,"17":0,"18":0,"19":0,"20":0,"21":0,"22":0,"23":0,"24":0,"25":0,"26":0,"27":0,"28":1.3,"29":0,"30":0,"c":0,"g":0,"m":0.1},
      {"h":252,"01":0,"02":0,"03":0,"04":0,"05":0,"06":0,"07":0,"08":0,"09":0,"10":0,"11":0,"12":0,"13":0,"14":0,"15":0,"16":0,"17":0,"18":0,"19":0,"20":0,"21":0,"22":0,"23":0,"24":0,"25":0,"26":0,"27":0,"28":0.2,"29":0,"30":0,"c":0,"g":0,"m":0},
      {"h":258,"01":0,"02":0,"03":0,"04":0,"05":0,"06":0,"07":0,"08":0,"09":0.3,"10":0,"11":0,"12":0,"13":0,"14":0,"15":0,"16":0,"17":0,"18":0,"19":0,"20":0,"21":0,"22":0,"23":0,"24":0,"25":0,"26":0,"27":0,"28":0,"29":0,"30":0,"c":0,"g":0,"m":0},
      {"h":264,"01":0,"02":0,"03":17.8,"04":0,"05":0,"06":0,"07":0,"08":0,"09":2.4,"10":0,"11":0,"12":0,"13":0,"14":0,"15":0.3,"16":0,"17":0,"18":0,"19":0,"20":0,"21":0,"22":0,"23":0,"24":0,"25":0,"26":0,"27":0,"28":0,"29":0,"30":0,"c":0.2,"g":0.3,"m":0.8},
      {"h":270,"01":0,"02":0,"03":5.0,"04":0,"05":0,"06":0,"07":0,"08":0,"09":3.0,"10":0,"11":0,"12":0,"13":0,"14":0,"15":1.0,"16":0,"17":0,"18":0,"19":0,"20":0,"21":0,"22":0.5,"23":0,"24":0,"25":0,"26":0,"27":0,"28":0,"29":0,"30":0,"c":0,"g":0,"m":0.6},
      {"h":276,"01":0,"02":0,"03":0,"04":0,"05":0,"06":0,"07":0,"08":0,"09":0,"10":0,"11":0,"12":0,"13":0,"14":0,"15":0.2,"16":0,"17":0,"18":0,"19":0,"20":0,"21":0,"22":0,"23":0,"24":0,"25":0,"26":0,"27":0,"28":0,"29":0,"30":0,"c":0,"g":0,"m":0.2},
      {"h":282,"01":0,"02":0,"03":0,"04":0,"05":0,"06":0,"07":0,"08":0,"09":0,"10":0,"11":0,"12":0,"13":0,"14":0,"15":0,"16":0,"17":0,"18":0,"19":0,"20":0,"21":0,"22":0,"23":0,"24":0,"25":0,"26":0,"27":0,"28":0,"29":0,"30":0,"c":0,"g":0,"m":0},
      {"h":288,"01":0,"02":0,"03":0,"04":0,"05":0,"06":0,"07":0,"08":0,"09":0,"10":0,"11":0,"12":0,"13":0,"14":0,"15":0,"16":0,"17":0,"18":0,"19":0.3,"20":0,"21":0.4,"22":0.5,"23":0,"24":0,"25":0,"26":0,"27":0,"28":0,"29":0,"30":0,"c":0,"g":0,"m":0},
      {"h":294,"01":0,"02":0,"03":0,"04":0,"05":0,"06":0,"07":0,"08":0,"09":0,"10":0,"11":0,"12":0,"13":0,"14":0,"15":0,"16":0,"17":0,"18":0,"19":1.4,"20":0,"21":3.5,"22":0,"23":0,"24":0,"25":0,"26":0,"27":0,"28":0,"29":0,"30":0,"c":0,"g":0,"m":0.2},
      {"h":300,"01":0,"02":0,"03":0,"04":0,"05":0,"06":0,"07":0,"08":0,"09":0,"10":0,"11":0,"12":0,"13":0,"14":0,"15":0,"16":0,"17":0,"18":0,"19":0,"20":0,"21":0.2,"22":0,"23":0,"24":0,"25":0,"26":0,"27":0.3,"28":0,"29":0,"30":0,"c":0,"g":0,"m":0},
      {"h":306,"01":0,"02":0,"03":0,"04":0,"05":0,"06":0,"07":0,"08":0,"09":0,"10":0,"11":0,"12":0,"13":0,"14":0,"15":0,"16":0,"17":0,"18":0,"19":0,"20":1.3,"21":0,"22":0,"23":0,"24":0,"25":0,"26":0,"27":0.4,"28":0,"29":0,"30":0,"c":0,"g":0,"m":0.1},
      {"h":312,"01":0,"02":0,"03":0.3,"04":0,"05":0,"06":0,"07":0,"08":0,"09":1.0,"10":0,"11":0,"12":0,"13":0,"14":0,"15":0,"16":0,"17":0,"18":0,"19":0,"20":0,"21":0,"22":0,"23":0,"24":0,"25":0,"26":0,"27":0,"28":0,"29":0,"30":0,"c":0,"g":0,"m":0},
      {"h":318,"01":0,"02":0,"03":0,"04":0,"05":0,"06":0,"07":0,"08":0,"09":0.2,"10":0,"11":0,"12":0,"13":0,"14":0,"15":0,"16":0,"17":0,"18":0,"19":0,"20":0,"21":0,"22":0,"23":0,"24":0,"25":0,"26":0,"27":0,"28":0,"29":0,"30":0,"c":0,"g":0,"m":0},
      {"h":324,"01":0,"02":0,"03":0,"04":0,"05":0,"06":0,"07":0,"08":0,"09":0,"10":0,"11":0,"12":0,"13":0,"14":0,"15":0,"16":0,"17":0,"18":0,"19":0,"20":0,"21":0,"22":0,"23":0,"24":0,"25":0,"26":0,"27":0,"28":0,"29":0,"30":0,"c":0,"g":0,"m":0},
      {"h":330,"01":0,"02":0,"03":0,"04":0,"05":0,"06":0,"07":0,"08":0,"09":0,"10":0,"11":0,"12":0,"13":0,"14":0,"15":0,"16":0,"17":0,"18":0,"19":0,"20":0,"21":0,"22":0,"23":0,"24":0,"25":0,"26":0,"27":0,"28":0,"29":0,"30":0,"c":0,"g":0,"m":0},
      {"h":336,"01":0,"02":0,"03":0,"04":0,"05":0,"06":0,"07":0,"08":0,"09":0,"10":0,"11":0,"12":0,"13":0,"14":0,"15":0,"16":0,"17":0,"18":0,"19":0,"20":0,"21":0,"22":0,"23":0,"24":0,"25":0,"26":0,"27":0,"28":0,"29":0,"30":0,"c":0,"g":0,"m":0},
      {"h":342,"01":0,"02":0,"03":0,"04":0,"05":0,"06":0,"07":0,"08":0,"09":0,"10":0,"11":0,"12":0,"13":0,"14":0,"15":0,"16":0,"17":1.9,"18":4.2,"19":0,"20":0,"21":0,"22":0,"23":0,"24":0,"25":0,"26":0,"27":0,"28":0,"29":0,"30":0,"c":0,"g":0,"m":0.2},
      {"h":348,"01":0,"02":0,"03":0,"04":0,"05":0,"06":0,"07":0,"08":0,"09":0,"10":0,"11":0,"12":0,"13":0,"14":0,"15":0,"16":0,"17":0,"18":0.3,"19":0,"20":0,"21":0,"22":0,"23":0,"24":0.3,"25":0,"26":0.2,"27":0,"28":0,"29":0,"30":0,"c":0,"g":0,"m":0},
      {"h":354,"01":0,"02":0,"03":0,"04":0,"05":0,"06":0,"07":0,"08":0,"09":0,"10":0,"11":0,"12":0,"13":0,"14":0,"15":0,"16":0,"17":0,"18":0.6,"19":0,"20":0,"21":0,"22":0,"23":0,"24":0.4,"25":0,"26":0,"27":0,"28":0,"29":0,"30":0,"c":0,"g":0,"m":0},
      {"h":360,"01":0,"02":0,"03":0,"04":0,"05":0,"06":0,"07":0,"08":0,"09":0,"10":0,"11":0,"12":0,"13":0,"14":0,"15":0,"16":0,"17":0,"18":1.7,"19":0,"20":0,"21":0,"22":0,"23":0,"24":1.2,"25":0,"26":0.2,"27":0,"28":0,"29":0,"30":0,"c":0,"g":0,"m":0.1},
      {"h":366,"01":0,"02":0,"03":0,"04":0,"05":0,"06":0,"07":0,"08":0,"09":0,"10":0,"11":0,"12":0,"13":0,"14":0,"15":0,"16":0,"17":0,"18":2.8,"19":0,"20":0,"21":0,"22":0,"23":0,"24":0.3,"25":0,"26":0,"27":0,"28":0,"29":0,"30":0,"c":0,"g":0,"m":0},
      {"h":372,"01":0,"02":0,"03":0,"04":0,"05":0,"06":0,"07":0.2,"08":0,"09":0,"10":0,"11":0,"12":0,"13":0,"14":0,"15":0,"16":0,"17":0,"18":0,"19":0,"20":0,"21":0,"22":0,"23":0,"24":0,"25":0,"26":0,"27":0,"28":0,"29":0,"30":0,"c":0,"g":0,"m":0},
      {"h":378,"01":0,"02":0,"03":0,"04":0,"05":0,"06":0,"07":0.6,"08":0,"09":0,"10":0,"11":0,"12":0,"13":0,"14":0,"15":0,"16":0,"17":0,"18":0,"19":0,"20":0,"21":0,"22":0,"23":0,"24":0,"25":0,"26":0,"27":0,"28":0,"29":0,"30":0,"c":0,"g":0,"m":0},
      {"h":384,"01":0,"02":0,"03":0,"04":0,"05":0,"06":0,"07":0,"08":0,"09":0,"10":0,"11":0,"12":0,"13":0,"14":0,"15":0,"16":0,"17":0,"18":0,"19":0,"20":0,"21":0,"22":0,"23":0,"24":0,"25":0,"26":0,"27":0,"28":0,"29":0,"30":0,"c":0,"g":0,"m":0}
    ]
  },
  "resolve": {"scale": {"y": "independent"}, "axis": {"y": "independent"}},
  "layer": [
    {
      "layer": [
        {
          "data": {"name": "temp"},
          "transform": [{"fold": ["01","02","03","04","05","06","07","08","09","10","11","12","13","14","15","16","17","18","19","20","21","22","23","24","25","26","27","28","29","30"], "as": ["k", "t"]}],
          "mark": {"type": "line", "strokeWidth": 1, "point": {"shape": "M-1,0H1M0,-1V1", "size": 16, "filled": false, "strokeWidth": 1}},
          "encoding": {
            "x": {
              "field": "h", "type": "quantitative",
              "scale": {"domain": [0, 384], "nice": false, "zero": false},
              "axis": {
                "values": [12,36,60,84,108,132,156,180,204,228,252,276,300,324,348,372],
                "grid": true,
                "labelOverlap": false,
                "labelAngle": 270,
                "labelAlign": "right",
                "labelBaseline": "top",
                "labelPadding": 3,
                "labelExpr": "datum.value < 180 ? format(24 + (datum.value + 12) / 24, '02d') + '/08' : format((datum.value + 12) / 24 - 7, '02d') + '/09'"
              }
            },
            "y": {
              "field": "t", "type": "quantitative",
              "scale": {"domain": [-37.857, 47.857], "nice": false, "zero": false},
              "axis": {"orient": "left", "values": [-30,-25,-20,-15,-10,-5,0,5,10,15,20,25,30,35,40,45], "tickCount": 18, "grid": true, "labelOverlap": false, "labelAlign": "left", "labelBaseline": "top", "labelPadding": 30}
            },
            "color": {
              "field": "k", "type": "nominal",
              "scale": {
                "domain": ["01","02","03","04","05","06","07","08","09","10","11","12","13","14","15","16","17","18","19","20","21","22","23","24","25","26","27","28","29","30"],
                "range": ["#e6823c","#8cc864","#f0c800","#8c50aa","#b4500f","#5a8214","#1e8cf0","#e6d2aa","#3c8cb4","#e6a050","#645028","#f06428","#d2c378","#14d264","#284b64","#646e78","#dc78f0","#8c28f0","#7d5a28","#3c0a6e","#f0dc00","#2a6496","#8c5a28","#a08cf0","#a0f03c","#d278d2","#1e0a96","#e6d2b4","#8c0a0a","#0a3cc8"]
              },
              "legend": {
                "orient": "none",
                "legendX": 290,
                "legendY": 642,
                "direction": "horizontal",
                "columns": 30,
                "title": "30 Perts.",
                "titleOrient": "left",
                "titleFontSize": 10,
                "titleFontWeight": "normal",
                "titlePadding": 7.5,
                "symbolType": "M-1,0.5H1M-1,0.7H1M-1,0.9H1M-1,1.1H1M-1,1.3H1M-1,1.5H1",
                "symbolSize": 100,
                "symbolStrokeWidth": 1.2,
                "symbolOffset": -2.5,
                "labelFontSize": 7,
                "labelFontWeight": "bold",
                "labelAlign": "center",
                "labelBaseline": "bottom",
                "labelOffset": -8.5,
                "columnPadding": -4,
                "rowPadding": 0
              }
            }
          }
        },
        {
          "data": {"name": "temp"},
          "transform": [{"fold": ["g"], "as": ["k", "t"]}],
          "mark": {"type": "line", "strokeWidth": 1.5},
          "encoding": {
            "x": {"field": "h", "type": "quantitative"},
            "y": {"field": "t", "type": "quantitative", "axis": {"orient": "left", "values": [-30,-25,-20,-15,-10,-5,0,5,10,15,20,25,30,35,40,45], "tickCount": 18, "grid": true, "labelOverlap": false, "labelAlign": "left", "labelBaseline": "top", "labelPadding": 30}},
            "stroke": {
              "field": "k", "type": "nominal",
              "scale": {"domain": [" ", "c", "m", "g"], "range": ["rgba(0,0,0,0)", "#0000ff", "#ff0000", "#000000"]},
              "legend": {
                "orient": "none",
                "legendX": -15,
                "legendY": 632,
                "direction": "horizontal",
                "columns": 2,
                "title": null,
                "symbolType": "M-5,-0.667H5M-5,-0.333H5M-5,0H5M-5,0.333H5M-5,0.667H5",
                "symbolSize": 36,
                "symbolStrokeWidth": 1.2,
                "symbolOffset": 10,
                "labelFontSize": 10,
                "labelOffset": 20,
                "labelLimit": 300,
                "columnPadding": 20,
                "rowPadding": -2,
                "labelExpr": "datum.label == 'c' ? 'Run de contrôle' : datum.label == 'g' ? 'Run GFS' : datum.label == 'm' ? 'Moyenne des scénarios' : ''"
              }
            }
          }
        },
        {
          "data": {"name": "temp"},
          "transform": [{"fold": ["c"], "as": ["k", "t"]}],
          "mark": {"type": "line", "strokeWidth": 1.5, "point": {"shape": "M-1,0H1M0,-1V1", "size": 20, "filled": false, "strokeWidth": 1.5}},
          "encoding": {
            "x": {"field": "h", "type": "quantitative"},
            "y": {"field": "t", "type": "quantitative", "axis": {"orient": "left", "values": [-30,-25,-20,-15,-10,-5,0,5,10,15,20,25,30,35,40,45], "tickCount": 18, "grid": true, "labelOverlap": false, "labelAlign": "left", "labelBaseline": "top", "labelPadding": 30}},
            "stroke": {"field": "k", "type": "nominal"}
          }
        },
        {
          "data": {"name": "temp"},
          "transform": [{"fold": ["m"], "as": ["k", "t"]}],
          "mark": {"type": "line", "strokeWidth": 4},
          "encoding": {
            "x": {"field": "h", "type": "quantitative"},
            "y": {"field": "t", "type": "quantitative", "axis": {"orient": "left", "values": [-30,-25,-20,-15,-10,-5,0,5,10,15,20,25,30,35,40,45], "tickCount": 18, "grid": true, "labelOverlap": false, "labelAlign": "left", "labelBaseline": "top", "labelPadding": 30}},
            "stroke": {"field": "k", "type": "nominal"}
          }
        }
      ]
    },
    {
      "layer": [
        {
          "data": {"name": "precip"},
          "transform": [{"fold": ["01","02","03","04","05","06","07","08","09","10","11","12","13","14","15","16","17","18","19","20","21","22","23","24","25","26","27","28","29","30"], "as": ["k", "p"]}],
          "mark": {"type": "line", "strokeWidth": 1, "point": {"shape": "M-1,0H1M0,-1V1", "size": 16, "filled": false, "strokeWidth": 1}},
          "encoding": {
            "x": {"field": "h", "type": "quantitative", "scale": {"domain": [0, 384], "nice": false, "zero": false}},
            "y": {
              "field": "p", "type": "quantitative",
              "scale": {"domain": [-7.857, 77.857], "nice": false, "zero": false},
              "axis": {"orient": "right", "values": [0,5,10,15,20,25,30,35,40,45,50,55,60,65,70,75], "tickCount": 18, "grid": false, "labelOverlap": false, "labelAlign": "left", "labelBaseline": "top", "labelPadding": 18}
            },
            "color": {"field": "k", "type": "nominal"}
          }
        },
        {
          "data": {"name": "precip"},
          "transform": [{"fold": ["g"], "as": ["k", "p"]}],
          "mark": {"type": "line", "strokeWidth": 1.5},
          "encoding": {
            "x": {"field": "h", "type": "quantitative"},
            "y": {"field": "p", "type": "quantitative", "axis": {"orient": "right", "values": [0,5,10,15,20,25,30,35,40,45,50,55,60,65,70,75], "tickCount": 18, "grid": false, "labelOverlap": false, "labelAlign": "left", "labelBaseline": "top", "labelPadding": 18}},
            "stroke": {"field": "k", "type": "nominal"}
          }
        },
        {
          "data": {"name": "precip"},
          "transform": [{"fold": ["c"], "as": ["k", "p"]}],
          "mark": {"type": "line", "strokeWidth": 2.5},
          "encoding": {
            "x": {"field": "h", "type": "quantitative"},
            "y": {"field": "p", "type": "quantitative", "axis": {"orient": "right", "values": [0,5,10,15,20,25,30,35,40,45,50,55,60,65,70,75], "tickCount": 18, "grid": false, "labelOverlap": false, "labelAlign": "left", "labelBaseline": "top", "labelPadding": 18}},
            "stroke": {"field": "k", "type": "nominal"}
          }
        },
        {
          "data": {"name": "precip"},
          "transform": [{"fold": ["m"], "as": ["k", "p"]}],
          "mark": {"type": "line", "strokeWidth": 4},
          "encoding": {
            "x": {"field": "h", "type": "quantitative"},
            "y": {"field": "p", "type": "quantitative", "axis": {"orient": "right", "values": [0,5,10,15,20,25,30,35,40,45,50,55,60,65,70,75], "tickCount": 18, "grid": false, "labelOverlap": false, "labelAlign": "left", "labelBaseline": "top", "labelPadding": 18}},
            "stroke": {"field": "k", "type": "nominal"}
          }
        }
      ]
    },
    {
      "layer": [
        {
          "data": {"values": [{}]},
          "mark": {"type": "rule", "color": "#000000", "strokeWidth": 1.3},
          "encoding": {"y": {"datum": 0.14, "scale": {"domain": [-37.857, 47.857], "nice": false, "zero": false}, "axis": null}}
        },
        {
          "data": {"values": [{}]},
          "mark": {"type": "rule", "color": "#000000", "strokeWidth": 1.3},
          "encoding": {"y": {"datum": -0.2, "scale": {"domain": [-37.857, 47.857], "nice": false, "zero": false}, "axis": null}}
        },
        {
          "data": {"values": [{"txt": "Températures 2m"}]},
          "mark": {"type": "text", "align": "left", "baseline": "middle", "fontSize": 10},
          "encoding": {"x": {"datum": 6}, "y": {"datum": 33.67, "scale": {"domain": [-37.857, 47.857], "nice": false, "zero": false}, "axis": null}, "text": {"field": "txt"}}
        },
        {
          "data": {"values": [{"txt": "Précipitations"}]},
          "mark": {"type": "text", "align": "left", "baseline": "middle", "fontSize": 10},
          "encoding": {"x": {"datum": 6}, "y": {"datum": -28.47, "scale": {"domain": [-37.857, 47.857], "nice": false, "zero": false}, "axis": null}, "text": {"field": "txt"}}
        },
        {
          "data": {"values": [{"txt": "(°C)"}]},
          "mark": {"type": "text", "align": "left", "baseline": "middle", "fontSize": 10},
          "encoding": {"x": {"datum": -17.4}, "y": {"datum": -38.8, "scale": {"domain": [-37.857, 47.857], "nice": false, "zero": false}, "axis": null}, "text": {"field": "txt"}}
        },
        {
          "data": {"values": [{"txt": "(mm)"}]},
          "mark": {"type": "text", "align": "left", "baseline": "middle", "fontSize": 10},
          "encoding": {"x": {"datum": 396}, "y": {"datum": -38.7, "scale": {"domain": [-37.857, 47.857], "nice": false, "zero": false}, "axis": null}, "text": {"field": "txt"}}
        },
        {
          "data": {"values": [{"txt": "Altitude du modele : 552m"}]},
          "mark": {"type": "text", "align": "left", "baseline": "middle", "fontSize": 10},
          "encoding": {"x": {"datum": 78}, "y": {"datum": -46.43, "scale": {"domain": [-37.857, 47.857], "nice": false, "zero": false}, "axis": null}, "text": {"field": "txt"}}
        },
        {
          "data": {"values": [{}]},
          "mark": {"type": "rect", "filled": false, "stroke": "#000000", "strokeWidth": 2},
          "encoding": {"x": {"datum": -18}, "x2": {"datum": 234}, "y": {"datum": -47.43, "scale": {"domain": [-37.857, 47.857], "nice": false, "zero": false}, "axis": null}, "y2": {"datum": -52.0}}
        },
        {
          "data": {"values": [{"txt": "Diagramme des ensembles GEFS sur 384h : 39.3N 0.8W"}]},
          "mark": {"type": "text", "align": "left", "baseline": "middle", "fontSize": 11.4, "fontWeight": "bold"},
          "encoding": {"x": {"datum": -12}, "y": {"datum": -48.86, "scale": {"domain": [-37.857, 47.857], "nice": false, "zero": false}, "axis": null}, "text": {"field": "txt"}}
        },
        {
          "data": {"values": [{"txt": "Température 2m (°C) , précipitations (mm)"}]},
          "mark": {"type": "text", "align": "left", "baseline": "middle", "fontSize": 10},
          "encoding": {"x": {"datum": -12}, "y": {"datum": -51.0, "scale": {"domain": [-37.857, 47.857], "nice": false, "zero": false}, "axis": null}, "text": {"field": "txt"}}
        },
        {
          "data": {"values": [{"txt": "Ensemble GEFS du 24/08/2026 - 12Z"}]},
          "mark": {"type": "text", "align": "left", "baseline": "middle", "fontSize": 10},
          "encoding": {"x": {"datum": 240}, "y": {"datum": -48.14, "scale": {"domain": [-37.857, 47.857], "nice": false, "zero": false}, "axis": null}, "text": {"field": "txt"}}
        },
        {
          "data": {"values": [{"txt": "Copyright 2026 Meteociel.fr"}]},
          "mark": {"type": "text", "align": "left", "baseline": "middle", "fontSize": 11.5, "fontWeight": "bold"},
          "encoding": {"x": {"datum": 240}, "y": {"datum": -50.86, "scale": {"domain": [-37.857, 47.857], "nice": false, "zero": false}, "axis": null}, "text": {"field": "txt"}}
        }
      ]
    }
  ]
}
